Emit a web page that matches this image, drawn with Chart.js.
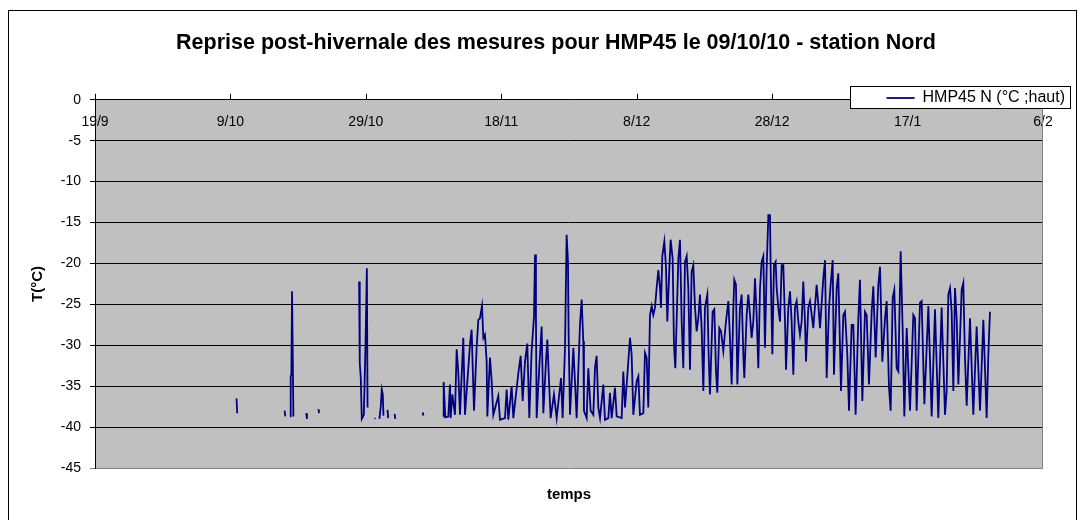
<!DOCTYPE html>
<html>
<head>
<meta charset="utf-8">
<script src="https://cdn.jsdelivr.net/npm/chart.js@4/dist/chart.umd.min.js"></script>
<style>
html,body{margin:0;padding:0;background:#fff;}
#wrap{width:1085px;height:520px;position:relative;}
</style>
</head>
<body>
<div id="wrap"><canvas id="c" width="1085" height="520"></canvas></div>
<script>
const chartTitle = 'Reprise post-hivernale des mesures pour HMP45 le 09/10/10 - station Nord';
const seriesName = 'HMP45 N (°C ;haut)';
const xAxisTitle = 'temps';
const yAxisTitle = 'T(°C)';
const tickLabels = ['19/9', '9/10', '29/10', '18/11', '8/12', '28/12', '17/1', '6/2'];
const tickStepDays = 20;
const yTicks = { min: -45, max: 0, step: 5 };

// days since 19/9 (null temperature = gap in the record)
const dayOffsets = [
  20.9, 21.0, 21.05, 28.0, 28.1, 28.15, 28.8, 28.9, 29.0, 29.1, 29.3, 29.35, 31.2, 31.3, 31.35, 33.0, 33.1, 33.15,
  39.0, 39.1, 39.25, 39.4, 39.7, 39.95, 40.15, 40.25, 40.3,
  41.3, 41.4, 41.45, 42.0, 42.2, 42.35, 42.5, 42.6, 42.65,
  43.2, 43.3, 43.35, 44.25, 44.35, 44.4, 48.4, 48.5, 48.55,
  51.44, 51.49, 51.64, 51.73, 52.18, 52.42, 52.52, 52.77, 53.16, 53.41, 53.65, 53.90, 54.39, 54.64, 55.38, 55.62, 55.97,
  56.36, 56.61, 56.85, 57.15, 57.35, 57.59, 57.84, 57.94, 58.33, 58.58, 58.82, 59.56, 59.81, 60.55, 60.79, 61.04, 61.53, 61.78,
  62.52, 62.86, 63.16, 63.50, 63.84, 64.14, 64.48, 64.83, 64.98, 65.12, 65.22, 65.62, 65.96, 66.21, 66.60, 66.80, 67.09, 67.29,
  67.78, 68.18, 68.82, 69.06, 69.41, 69.65, 69.85, 69.95, 70.15, 70.64, 70.88, 71.13, 71.62, 71.87, 72.11, 72.21, 72.61, 72.85, 73.20,
  73.59, 73.84, 74.08, 74.33, 74.58, 75.07, 75.31, 75.81, 76.05, 76.30, 76.79, 77.04, 77.78, 78.02, 78.27, 78.76, 79.01, 79.25, 79.50,
  79.99, 80.24, 80.48, 80.98, 81.22, 81.47, 81.71,
  81.96, 82.21, 82.45, 82.70, 82.94, 83.19, 83.44, 83.58, 83.78, 84.08, 84.32, 84.52, 84.82, 85.01, 85.31, 85.50, 85.70,
  86.15, 86.39, 86.64, 86.88, 87.13, 87.38, 87.62, 87.87, 88.11, 88.36, 88.61, 88.85, 89.10, 89.34, 89.59, 89.84, 90.08,
  90.43, 90.62, 90.82, 91.21, 91.46, 91.71, 91.90, 92.20, 92.45, 92.79, 93.18, 93.53, 93.77, 94.02, 94.27, 94.41, 94.66, 94.86,
  95.25, 95.50, 95.74, 95.89, 96.24, 96.48, 96.73, 96.97, 97.22, 97.47, 97.71, 97.96, 98.21, 98.45, 98.70, 98.94, 99.19, 99.44, 99.68, 99.78,
  100.03, 100.27, 100.52, 100.67, 100.91, 101.16, 101.41, 101.65, 101.90, 102.05, 102.39, 102.64, 102.88, 103.13, 103.37, 103.62, 103.87, 104.11, 104.36, 104.60, 104.85, 105.00, 105.34, 105.59,
  106.08, 106.57, 106.82, 107.07, 107.56, 107.81, 108.05, 108.40, 108.64, 108.94, 109.13, 109.53, 109.77, 110.17, 110.51, 110.76, 111.10, 111.35,
  111.74, 111.99, 112.33, 112.73, 112.97, 113.32, 113.71, 113.96, 114.30, 114.70, 114.94, 115.29, 115.68, 115.93, 116.27, 116.67, 116.91, 117.26, 117.50,
  117.80, 118.04, 118.39, 118.64, 118.98, 119.27, 119.52, 119.87,
  120.36, 120.85, 121.10, 121.34, 121.84, 122.08, 122.48, 123.07, 123.56, 124.05, 124.54, 125.03, 125.53, 125.77, 126.02, 126.27, 126.51, 126.76,
  127.00, 127.25, 127.50, 127.99, 128.23, 128.48, 128.73, 129.22, 129.71, 130.20, 130.70, 131.19, 131.68, 131.93, 132.17
];

// temperature, °C
const tempC = [
  -36.5, -38.3, null, -38.0, -38.7, null, -38.7, -33.8, -33.6, -23.4, -38.7, null, -38.3, -39.0, null, -37.8, -38.3, null,
  -22.2, -32.2, -34.0, -39.0, -38.5, -29.9, -20.6, -37.6, null,
  -38.9, -39.0, null, -39.0, -37.5, -35.4, -36.0, -38.6, null,
  -37.9, -38.9, null, -38.4, -39.0, null, -38.2, -38.6, null,
  -38.7, -34.5, -37.2, -38.8, -38.7, -34.8, -38.9, -36.0, -38.5, -30.5, -33.2, -38.5, -29.1, -38.5, -29.9, -28.1, -38.0,
  -30.3, -26.9, -26.7, -25.2, -29.1, -28.7, -32.0, -38.7, -31.5, -34.4, -38.5, -36.2, -39.1, -38.9, -35.4, -39.1, -35.0, -38.9,
  -33.4, -31.3, -36.8, -32.0, -29.8, -38.9, -30.7, -26.5, -18.9, -26.7, -38.9, -32.6, -27.7, -38.3, -32.0, -29.3, -35.2, -38.9,
  -36.0, -38.9, -34.0, -38.9, -30.3, -16.5, -19.8, -29.1, -38.5, -30.3, -34.4, -38.9, -27.5, -24.4, -29.5, -38.0, -38.9, -32.8, -38.0,
  -38.5, -32.7, -31.3, -37.6, -38.9, -34.8, -39.1, -38.9, -35.8, -38.9, -35.2, -38.7, -38.9, -33.2, -37.6, -32.0, -29.1, -31.1, -38.5,
  -34.4, -33.8, -38.5, -38.3, -30.9, -31.5, -37.6,
  -26.3, -25.2, -26.3, -25.4, -23.0, -20.8, -23.0, -25.4, -19.1, -17.3, -20.4, -27.1, -20.6, -17.1, -19.4, -29.9, -32.8,
  -19.4, -17.1, -27.1, -32.8, -19.8, -19.1, -23.0, -33.0, -21.0, -20.2, -25.4, -28.3, -26.7, -23.8, -27.9, -35.6, -25.4,
  -23.8, -31.1, -36.0, -25.9, -25.6, -33.2, -35.8, -27.9, -28.3, -30.7, -27.1, -24.6, -29.1, -34.8, -25.4, -22.0, -22.6, -34.8,
  -25.4, -23.8, -31.1, -34.0, -26.3, -23.8, -26.3, -29.1, -27.1, -21.8, -26.3, -32.8, -23.0, -19.8, -19.1, -30.3, -20.6, -14.1, -14.1, -20.6,
  -31.1, -20.2, -19.8, -23.0, -25.4, -27.1, -20.2, -20.2, -27.1, -33.0, -25.4, -23.4, -27.1, -33.6, -25.4, -24.6, -27.1, -28.7, -27.1, -22.2, -27.1, -32.0, -25.4, -24.6,
  -27.9, -22.6, -25.0, -27.9, -21.8, -19.6, -34.0, -25.4, -22.6, -19.6, -33.6, -23.0, -21.2, -35.6, -26.3, -25.9, -31.1, -38.0,
  -27.5, -27.5, -38.5, -26.7, -22.0, -36.8, -25.9, -26.3, -34.8, -25.9, -22.8, -31.5, -22.6, -20.4, -32.0, -26.7, -24.6, -35.2, -38.0,
  -24.2, -23.2, -32.8, -33.2, -18.5, -27.9, -38.7, -27.9,
  -38.0, -26.3, -26.7, -38.0, -24.8, -24.6, -37.2, -25.2, -38.7, -25.6, -38.9, -25.4, -38.5, -35.6, -23.8, -23.0, -25.9, -35.6,
  -23.0, -26.7, -34.8, -23.2, -22.4, -31.5, -37.4, -26.7, -38.5, -27.7, -38.0, -26.9, -38.9, -31.1, -25.9
];

if (dayOffsets.length !== tempC.length) console.error('length mismatch', dayOffsets.length, tempC.length);
const n = Math.min(dayOffsets.length, tempC.length);
const points = [];
for (let i = 0; i < n; i++) points.push({ x: dayOffsets[i], y: tempC[i] });

Chart.defaults.font.family = "'Liberation Sans', Arial, sans-serif";
Chart.defaults.color = '#000';

const LEGEND_BOX = { left: 850, right: 1071, top: 86, bottom: 109 };

const framePlugin = {
  id: 'frame',
  beforeDraw(chart) {
    const { ctx, chartArea: a } = chart;
    ctx.save();
    ctx.fillStyle = '#ffffff';
    ctx.fillRect(0, 0, chart.width, chart.height);
    ctx.fillStyle = '#c0c0c0';
    ctx.fillRect(a.left, a.top, a.right - a.left, a.bottom - a.top);
    ctx.strokeStyle = '#000';
    ctx.lineWidth = 1;
    ctx.strokeRect(8.5, 10.5, 1068, 600);
    ctx.restore();
  },
  afterDraw(chart) {
    const { ctx, chartArea: a } = chart;
    const xs = chart.scales.x;
    ctx.save();
    ctx.strokeStyle = '#808080';
    ctx.lineWidth = 1;
    ctx.beginPath();
    ctx.moveTo(Math.round(a.right) - 0.5, a.top);
    ctx.lineTo(Math.round(a.right) - 0.5, a.bottom);
    ctx.stroke();
    ctx.strokeStyle = '#000';
    xs.ticks.forEach(t => {
      const x = Math.round(xs.getPixelForValue(t.value)) + 0.5;
      ctx.beginPath();
      ctx.moveTo(x, a.top - 6);
      ctx.lineTo(x, a.top);
      ctx.stroke();
    });
    ctx.restore();
    // legend drawn last, on top of the axis line (as in the original)
    const lg = chart.legend;
    if (lg && lg._origDraw) {
      const b = LEGEND_BOX;
      ctx.save();
      ctx.fillStyle = '#fff';
      ctx.fillRect(b.left, b.top, b.right - b.left, b.bottom - b.top);
      ctx.strokeStyle = '#000';
      ctx.lineWidth = 1;
      ctx.strokeRect(b.left + 0.5, b.top + 0.5, b.right - b.left - 1, b.bottom - b.top - 1);
      ctx.restore();
      lg._origDraw.call(lg);
    }
  }
};

const legendMovePlugin = {
  id: 'legendMove',
  afterLayout(chart) {
    const lg = chart.legend;
    if (!lg) return;
    const h = lg.bottom - lg.top;
    const w = lg.right - lg.left;
    lg.top = 84; lg.bottom = 84 + h;
    lg.right = 1071; lg.left = 1071 - w;
    if (!lg._origDraw) {
      lg._origDraw = lg.draw;
      lg.draw = function () {};
    }
  }
};

new Chart(document.getElementById('c'), {
  type: 'line',
  data: {
    datasets: [{
      label: seriesName,
      data: points,
      borderColor: '#000080',
      backgroundColor: '#000080',
      borderWidth: 1.8,
      pointRadius: 0,
      tension: 0,
      spanGaps: false,
      fill: false
    }]
  },
  options: {
    responsive: false,
    animation: false,
    devicePixelRatio: 1,
    layout: { padding: { top: 0, left: 27, right: 0, bottom: 8 } },
    plugins: {
      title: {
        display: true, text: chartTitle, color: '#000',
        font: { size: 21.5, weight: 'bold' },
        padding: { top: 30, bottom: 12 }
      },
      legend: {
        display: true, position: 'top', align: 'end',
        labels: {
          usePointStyle: true, pointStyle: 'line', pointStyleWidth: 28,
          color: '#000', font: { size: 16 }, padding: 6
        }
      },
      tooltip: { enabled: false }
    },
    scales: {
      x: {
        type: 'linear', axis: 'x', min: 0, max: 140,
        position: { y: 0 },
        grid: { display: false, drawTicks: false },
        border: { display: true, color: '#000', width: 1 },
        ticks: {
          stepSize: tickStepDays, autoSkip: false, maxRotation: 0, padding: 14,
          color: '#000', font: { size: 14 },
          callback: (v, i) => tickLabels[i]
        }
      },
      xTitle: {
        type: 'linear', axis: 'x', min: 0, max: 140, position: 'bottom',
        grid: { display: false, drawTicks: false },
        border: { display: false },
        ticks: { display: false },
        title: { display: true, text: xAxisTitle, color: '#000', font: { size: 15, weight: 'bold' }, padding: { top: 18, bottom: 8 } }
      },
      y: {
        type: 'linear', axis: 'y', position: 'left',
        min: yTicks.min, max: yTicks.max,
        afterFit(s) { s.width = 68; },
        grid: {
          color: c => (c.tick && c.tick.value === yTicks.min) ? '#808080' : '#000',
          tickLength: 5, drawTicks: true, lineWidth: 1
        },
        border: { color: '#000', width: 1 },
        ticks: { stepSize: yTicks.step, padding: 9, color: '#000', font: { size: 14 } },
        title: { display: true, text: yAxisTitle, color: '#000', font: { size: 15, weight: 'bold' }, padding: { top: 2, bottom: 0 } }
      },
      yRight: {
        type: 'linear', axis: 'y', position: 'right',
        afterFit(s) { s.width = 42; },
        grid: { display: false, drawTicks: false },
        border: { display: false },
        ticks: { display: false }
      }
    }
  },
  plugins: [framePlugin, legendMovePlugin]
});
</script>
</body>
</html>
